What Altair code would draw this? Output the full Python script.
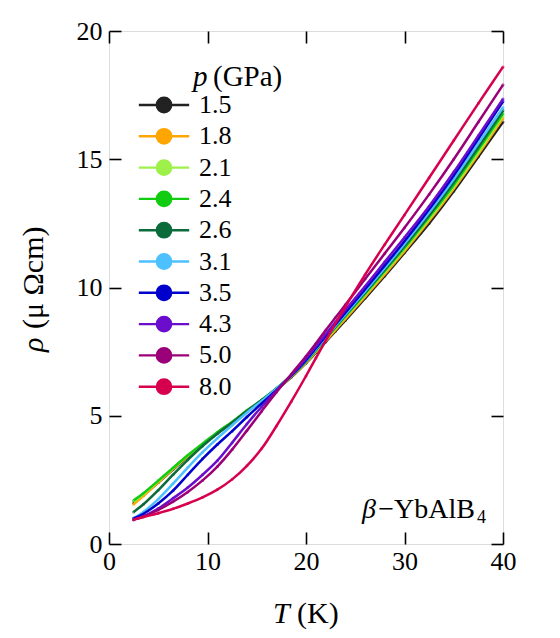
import altair as alt
import pandas as pd

# ---------------- data ----------------
T = [2.5, 3.5, 5, 6.5, 8, 9.5, 11, 12.5, 14, 15.5, 17, 18.5, 20, 21, 22, 23, 24, 26, 28, 30, 32.5, 35, 37.5, 40]

rho_1_5 = [1.60, 1.90, 2.40, 2.90, 3.40, 3.87, 4.32, 4.73, 5.17, 5.58, 6.02, 6.50, 7.05, 7.46, 7.88, 8.30, 8.72, 9.58, 10.45, 11.35, 12.50, 13.75, 15.10, 16.45]
rho_1_8 = [1.55, 1.88, 2.40, 2.92, 3.42, 3.88, 4.33, 4.74, 5.18, 5.59, 6.03, 6.52, 7.07, 7.49, 7.92, 8.35, 8.78, 9.64, 10.52, 11.42, 12.60, 13.85, 15.20, 16.60]
rho_2_1 = [1.65, 1.95, 2.45, 2.95, 3.45, 3.90, 4.35, 4.75, 5.20, 5.60, 6.05, 6.55, 7.10, 7.53, 7.98, 8.41, 8.85, 9.72, 10.60, 11.50, 12.68, 13.93, 15.28, 16.70]
rho_2_4 = [1.70, 1.98, 2.47, 2.97, 3.46, 3.91, 4.36, 4.76, 5.20, 5.61, 6.06, 6.56, 7.12, 7.55, 8.00, 8.44, 8.88, 9.76, 10.65, 11.55, 12.75, 14.00, 15.38, 16.78]
rho_2_6 = [1.25, 1.55, 2.10, 2.70, 3.28, 3.82, 4.30, 4.74, 5.19, 5.61, 6.06, 6.57, 7.13, 7.57, 8.02, 8.47, 8.92, 9.80, 10.70, 11.62, 12.82, 14.10, 15.48, 16.90]
rho_3_1 = [1.00, 1.25, 1.75, 2.35, 2.98, 3.58, 4.12, 4.63, 5.12, 5.58, 6.05, 6.57, 7.15, 7.59, 8.05, 8.50, 8.95, 9.85, 10.76, 11.70, 12.92, 14.22, 15.62, 17.02]
rho_3_5 = [1.00, 1.18, 1.58, 2.08, 2.70, 3.32, 3.88, 4.40, 4.95, 5.48, 6.00, 6.56, 7.17, 7.63, 8.10, 8.56, 9.02, 9.93, 10.86, 11.80, 13.05, 14.37, 15.80, 17.25]
rho_4_3 = [0.95, 1.08, 1.38, 1.78, 2.20, 2.70, 3.25, 3.95, 4.68, 5.35, 5.98, 6.58, 7.23, 7.70, 8.18, 8.65, 9.12, 10.05, 11.00, 11.95, 13.17, 14.50, 15.92, 17.35]
rho_5_0 = [0.95, 1.07, 1.33, 1.65, 2.03, 2.48, 3.02, 3.68, 4.42, 5.18, 5.92, 6.62, 7.32, 7.82, 8.33, 8.83, 9.33, 10.33, 11.33, 12.33, 13.63, 15.00, 16.45, 17.90]
rho_8_0 = [0.95, 1.05, 1.20, 1.37, 1.58, 1.82, 2.12, 2.52, 3.05, 3.72, 4.60, 5.55, 6.55, 7.25, 7.93, 8.60, 9.25, 10.50, 11.68, 12.83, 14.28, 15.73, 17.18, 18.60]

pressures = ["1.5", "1.8", "2.1", "2.4", "2.6", "3.1", "3.5", "4.3", "5.0", "8.0"]
series = [rho_1_5, rho_1_8, rho_2_1, rho_2_4, rho_2_6, rho_3_1, rho_3_5, rho_4_3, rho_5_0, rho_8_0]
colors = ["#222222", "#FFA500", "#9EF04A", "#11CC11", "#0B6B3A",
          "#4DC0FF", "#0000CD", "#6A0DCC", "#9A0078", "#D6004F"]

x_ticks = [0, 10, 20, 30, 40]
y_ticks = [0, 5, 10, 15, 20]

rows = []
for p, vals in zip(pressures, series):
    for t, r in zip(T, vals):
        rows.append({"T": t, "rho": r, "p": p})
df = pd.DataFrame(rows)

FONT = "Liberation Serif"
W, H = 394, 513
TICK = 12

xscale = alt.Scale(domain=[0, 40], nice=False)
yscale = alt.Scale(domain=[0, 20], nice=False)
pscale = alt.Scale(domain=pressures, range=colors)

SYM = "M-3.5,0H3.5M1,0A1,1,0,1,1,-1,0A1,1,0,1,1,1,0Z"


def ax(orient, values, labels=True):
    return alt.Axis(orient=orient, values=values, title=None, grid=False, domain=False,
                    offset=-TICK, tickSize=TICK, tickColor="black", tickWidth=1.6,
                    labels=labels, labelFont=FONT, labelFontSize=26, labelColor="black",
                    labelPadding=7 if orient in ("left", "right") else 4,
                    labelFlush=False, labelOverlap=False)


leg = alt.Legend(title=None, orient="none", legendX=42, legendY=61,
                 padding=0, symbolType=SYM, symbolSize=207,
                 symbolStrokeWidth=2.4, symbolOpacity=1, labelOffset=22,
                 labelFont=FONT, labelFontSize=26, labelColor="black",
                 rowPadding=5.3)

# tiny filled points carry the legend (circle + line symbol)
legend_points = alt.Chart(df).mark_point(filled=True, size=1).encode(
    x=alt.X("T:Q", scale=xscale, axis=ax("bottom", x_ticks)),
    y=alt.Y("rho:Q", scale=yscale, axis=ax("left", y_ticks)),
    fill=alt.Fill("p:N", sort=pressures, scale=pscale, legend=leg),
    stroke=alt.Stroke("p:N", sort=pressures, scale=pscale, legend=leg),
)

lines = alt.Chart(df).mark_line(strokeWidth=2.5, interpolate="catmull-rom").encode(
    x=alt.X("T:Q", scale=xscale, axis=None),
    y=alt.Y("rho:Q", scale=yscale, axis=None),
    color=alt.Color("p:N", sort=pressures, scale=pscale, legend=None),
    order=alt.Order("T:Q"),
)

frame_axes = alt.Chart(df).mark_point(opacity=0).encode(
    x=alt.X("T:Q", scale=xscale, axis=ax("top", x_ticks, labels=False)),
    y=alt.Y("rho:Q", scale=yscale, axis=ax("right", y_ticks, labels=False)),
)


def txt(s, x, y, size, style="normal", align="left", angle=0, baseline="alphabetic"):
    return alt.Chart(pd.DataFrame({"s": [s]})).mark_text(
        font=FONT, fontSize=size, fontStyle=style, align=align, baseline=baseline,
        angle=angle, color="black").encode(text="s:N", x=alt.value(x), y=alt.value(y))


texts = [
    # legend title
    txt("p", 84, 55, 29, "italic"),
    txt("(GPa)", 104, 55, 29),
    # x title
    txt("T", 164, 592, 30, "italic"),
    txt("(K)", 188, 592, 30),
    # y title
    txt("ρ", -75, 321, 30, "italic", angle=270, baseline="middle"),
    txt("(μ Ωcm)", -75, 298, 30, angle=270, baseline="middle"),
    # annotation
    txt("β", 253, 487, 28, "italic"),
    txt("−YbAlB", 366, 487, 28, align="right"),
    txt("4", 368, 492, 18),
]

chart = alt.layer(legend_points, lines, frame_axes, *texts).resolve_axis(
    x="independent", y="independent"
).properties(
    width=W, height=H,
    autosize=alt.AutoSizeParams(type="none"),
    padding={"left": 101, "top": 23, "right": 40, "bottom": 86},
).configure_view(stroke="black", strokeWidth=1.8).configure(background="white")

chart.save("out.html", embed_options={"renderer": "svg", "actions": False})
